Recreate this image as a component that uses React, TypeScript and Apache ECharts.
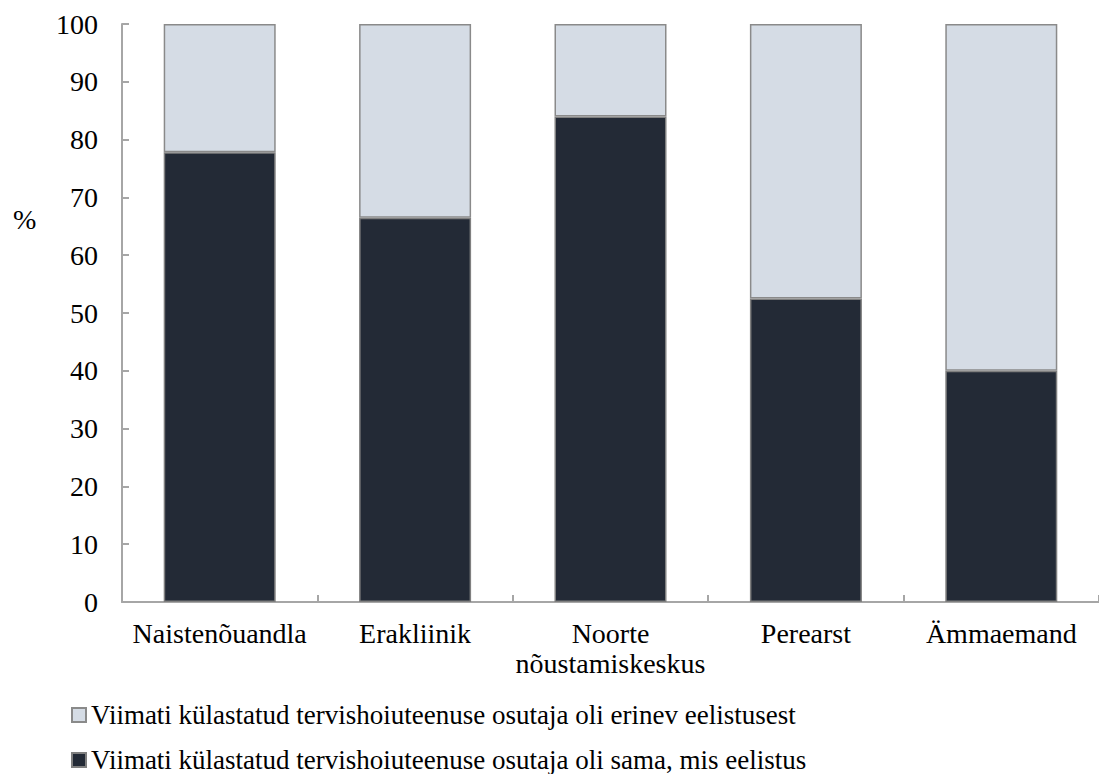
import React, { useEffect, useRef } from "react";
import * as echarts from "echarts";

// Providers of the most recently visited health service
const categories = [
  "Naistenõuandla",
  "Erakliinik",
  "Noorte\nnõustamiskeskus",
  "Perearst",
  "Ämmaemand",
];

// Share (%) where the last provider was the same as the preferred one
const sameAsPreferred = [77.8, 66.5, 84, 52.5, 40];
// Share (%) where the last provider differed from the preferred one
const differentFromPreferred = [22.2, 33.5, 16, 47.5, 60];

const yTicks = [0, 10, 20, 30, 40, 50, 60, 70, 80, 90, 100];

const seriesNames = [
  "Viimati külastatud tervishoiuteenuse osutaja oli sama, mis eelistus",
  "Viimati külastatud tervishoiuteenuse osutaja oli erinev eelistusest",
];

const FONT = "Liberation Serif";
const AXIS_GREY = "#a6a6a6";

const legendText = { fontFamily: FONT, fontSize: 27, lineHeight: 30, color: "#000" };

// One single-item legend per row, stacked vertically under the plot
const legendRow = (name: string, top: number) => ({
  orient: "vertical",
  left: 71,
  top,
  padding: 0,
  itemWidth: 14,
  itemHeight: 14,
  icon: "rect",
  data: [name],
  textStyle: legendText,
});

export default function App() {
  const ref = useRef<HTMLDivElement>(null);

  useEffect(() => {
    if (!ref.current) return;
    const chart = echarts.init(ref.current, undefined, { renderer: "svg" });
    chart.setOption({
      animation: false,
      backgroundColor: "#ffffff",
      textStyle: { fontFamily: FONT, color: "#000" },
      grid: { left: 122, top: 24, bottom: 172, right: -4, containLabel: false },
      legend: [legendRow(seriesNames[1], 700), legendRow(seriesNames[0], 745)],
      graphic: [
        {
          type: "text",
          left: 13,
          top: 205,
          style: { text: "%", fontFamily: FONT, fontSize: 28, fill: "#000" },
        },
      ],
      xAxis: {
        type: "category",
        data: categories,
        axisLine: { show: true, lineStyle: { color: AXIS_GREY, width: 2 } },
        axisTick: {
          show: true,
          inside: true,
          length: 7,
          lineStyle: { color: AXIS_GREY, width: 2 },
        },
        axisLabel: {
          interval: 0,
          margin: 16,
          fontFamily: FONT,
          fontSize: 28,
          lineHeight: 30,
          color: "#000",
        },
        splitLine: { show: false },
      },
      yAxis: {
        type: "value",
        min: yTicks[0],
        max: yTicks[yTicks.length - 1],
        interval: 10,
        axisLine: { show: true, lineStyle: { color: AXIS_GREY, width: 2 } },
        axisTick: {
          show: true,
          inside: true,
          length: 7,
          lineStyle: { color: AXIS_GREY, width: 2 },
        },
        axisLabel: {
          margin: 24,
          fontFamily: FONT,
          fontSize: 28,
          color: "#000",
        },
        splitLine: { show: false },
      },
      series: [
        {
          name: seriesNames[0],
          type: "bar",
          stack: "total",
          barWidth: 112,
          data: sameAsPreferred,
          itemStyle: { color: "#232a36", borderColor: "#7f7f7f", borderWidth: 1.5 },
        },
        {
          name: seriesNames[1],
          type: "bar",
          stack: "total",
          barWidth: 112,
          data: differentFromPreferred,
          itemStyle: { color: "#d5dce5", borderColor: "#8a8a8a", borderWidth: 1.5 },
        },
      ],
    });
    return () => chart.dispose();
  }, []);

  return (
    <div
      ref={ref}
      style={{ position: "absolute", left: 0, top: 0, width: 1099, height: 774 }}
    />
  );
}
